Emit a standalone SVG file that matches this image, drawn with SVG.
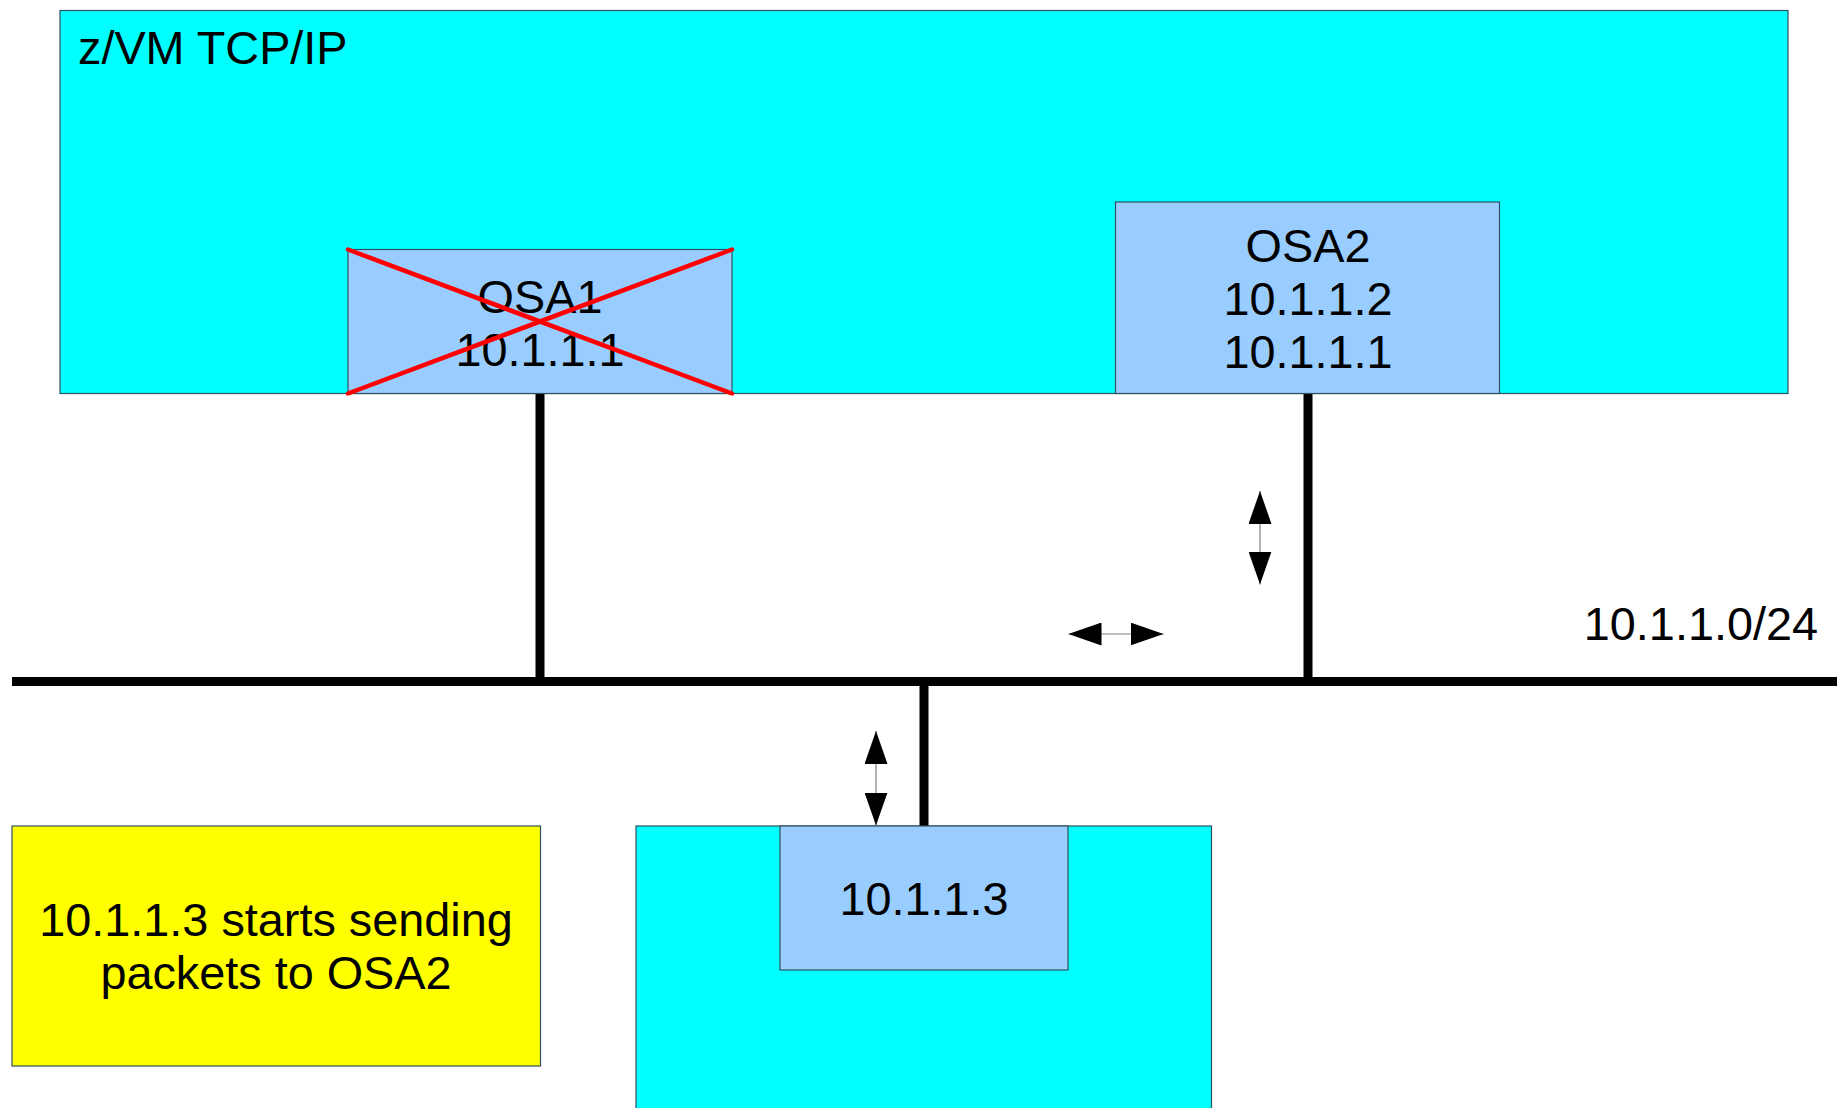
<svg xmlns="http://www.w3.org/2000/svg" width="1837" height="1108" viewBox="0 0 1837 1108">
<style>
.box{stroke:#2f5060;stroke-width:1.2}
.cyan{fill:#00ffff}
.blue{fill:#99ccff}
.yellow{fill:#ffff00}
text{font-family:"Liberation Sans",Arial,sans-serif;font-size:46.8px;fill:#000}
.c{text-anchor:middle}
.wire{stroke:#000;stroke-width:9;fill:none}
.flow{stroke:#808080;stroke-width:1.2;fill:none;marker-start:url(#ah);marker-end:url(#ah)}
.cross{stroke:#ff0000;stroke-width:4.5;stroke-linecap:round}
</style>
<defs>
<marker id="ah" viewBox="0 0 33 23" refX="33" refY="11.5" markerWidth="33" markerHeight="23" markerUnits="userSpaceOnUse" orient="auto-start-reverse">
<path d="M0,0 L33,11.5 L0,23 z" fill="#000"/>
</marker>
</defs>
<rect width="1837" height="1108" fill="#fff"/>
<g id="zvm">
<rect class="box cyan" x="60" y="10.5" width="1728" height="383"/>
<text x="78" y="63.5">z/VM TCP/IP</text>
</g>
<g id="host">
<rect class="box cyan" x="636" y="826" width="575.5" height="300"/>
</g>
<g id="connectors">
<line class="wire" x1="12" y1="681.5" x2="1837" y2="681.5"/>
<line class="wire" x1="540" y1="393" x2="540" y2="681"/>
<line class="wire" x1="1308" y1="393" x2="1308" y2="681"/>
<line class="wire" x1="924" y1="681" x2="924" y2="826"/>
<line class="flow" x1="1260" y1="491" x2="1260" y2="584.5"/>
<line class="flow" x1="1068.5" y1="634" x2="1163.5" y2="634"/>
<line class="flow" x1="876" y1="731" x2="876" y2="825.5"/>
</g>
<g id="osa1">
<rect class="box blue" x="348" y="249.5" width="384" height="144"/>
<text class="c" x="540" y="312.5">OSA1</text>
<text class="c" x="540" y="366">10.1.1.1</text>
<line class="cross" x1="348" y1="249.5" x2="732" y2="393.5"/>
<line class="cross" x1="348" y1="393.5" x2="732" y2="249.5"/>
</g>
<g id="osa2">
<rect class="box blue" x="1115.5" y="202" width="384" height="191.5"/>
<text class="c" x="1308" y="261.5">OSA2</text>
<text class="c" x="1308" y="314.5">10.1.1.2</text>
<text class="c" x="1308" y="367.5">10.1.1.1</text>
</g>
<g id="subnet">
<text x="1818" y="639.5" text-anchor="end">10.1.1.0/24</text>
</g>
<g id="ip3">
<rect class="box blue" x="780" y="826" width="288" height="144"/>
<text class="c" x="924" y="915">10.1.1.3</text>
</g>
<g id="note">
<rect class="box yellow" x="12" y="826" width="528.5" height="240"/>
<text class="c" x="276" y="936">10.1.1.3 starts sending</text>
<text class="c" x="276" y="989">packets to OSA2</text>
</g>
</svg>
